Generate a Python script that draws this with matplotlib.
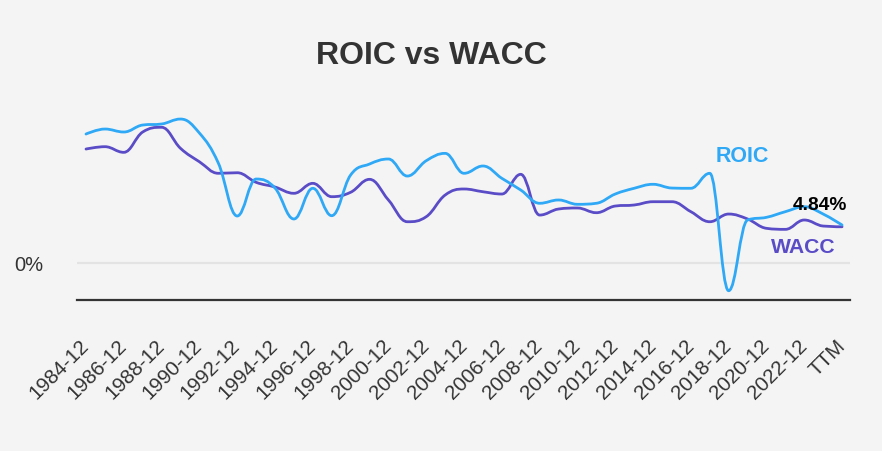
import numpy as np
import matplotlib
matplotlib.use("Agg")
import matplotlib.pyplot as plt
from matplotlib.path import Path
from matplotlib.patches import PathPatch

plt.rcParams['font.family'] = ['Liberation Sans', 'DejaVu Sans']

periods = [f"{y}-12" for y in range(1984, 2024)] + ["TTM"]

roic = [16.43, 17.07, 16.69, 17.58, 17.71, 18.34, 16.56, 12.74, 5.99, 10.70,
        9.55, 5.61, 9.52, 6.03, 11.21, 12.61, 13.25, 11.08, 13.03, 13.97,
        11.43, 12.36, 10.79, 9.30, 7.61, 8.03, 7.48, 7.61, 8.79, 9.52,
        10.03, 9.55, 9.52, 11.43, -3.53, 5.48, 5.82, 6.54, 7.17, 6.24, 4.84]

wacc = [14.52, 14.82, 14.10, 16.69, 17.29, 14.61, 12.90, 11.43, 11.50, 10.28,
        9.68, 8.88, 10.15, 8.45, 9.01, 10.66, 8.03, 5.26, 5.90, 8.66,
        9.43, 9.08, 8.79, 11.30, 6.11, 6.88, 7.01, 6.41, 7.26, 7.39,
        7.81, 7.81, 6.54, 5.26, 6.24, 5.61, 4.42, 4.29, 5.48, 4.71, 4.62]

ROIC_C = "#2FA8F6"
WACC_C = "#5A4CC6"
BG = "#F4F4F4"


def spline_path(xs, ys, smoothing=1.5):
    """Highcharts-style spline as cubic Bezier path."""
    n = len(xs)
    denom = smoothing + 1
    rc = [None] * n
    lc = [None] * n
    for i in range(n):
        px, py = xs[i], ys[i]
        if 0 < i < n - 1:
            lx, ly = xs[i - 1], ys[i - 1]
            nx, ny = xs[i + 1], ys[i + 1]
            lcx = (smoothing * px + lx) / denom
            lcy = (smoothing * py + ly) / denom
            rcx = (smoothing * px + nx) / denom
            rcy = (smoothing * py + ny) / denom
            corr = 0.0
            if rcx != lcx:
                corr = ((rcy - lcy) * (rcx - px)) / (rcx - lcx) + py - rcy
            lcy += corr
            rcy += corr
            if lcy > ly and lcy > py:
                lcy = max(ly, py); rcy = 2 * py - lcy
            elif lcy < ly and lcy < py:
                lcy = min(ly, py); rcy = 2 * py - lcy
            if rcy > ny and rcy > py:
                rcy = max(ny, py); lcy = 2 * py - rcy
            elif rcy < ny and rcy < py:
                rcy = min(ny, py); lcy = 2 * py - rcy
            lc[i] = (lcx, lcy)
            rc[i] = (rcx, rcy)
    verts = [(xs[0], ys[0])]
    codes = [Path.MOVETO]
    for i in range(1, n):
        c1 = rc[i - 1] if rc[i - 1] is not None else (xs[i - 1], ys[i - 1])
        c2 = lc[i] if lc[i] is not None else (xs[i], ys[i])
        verts += [c1, c2, (xs[i], ys[i])]
        codes += [Path.CURVE4] * 3
    return Path(verts, codes)


W, H = 882, 451
fig = plt.figure(figsize=(W / 100, H / 100), dpi=100, facecolor=BG)
ax = fig.add_axes([77 / W, (H - 300) / H, (850 - 77) / W, (300 - 105) / H])
ax.set_facecolor(BG)

x = np.arange(len(periods))
ax.set_xlim(-0.476, len(periods) - 1 + 0.42)
ax.set_ylim(-4.71, 20.13)

ax.axhline(0, color="#E3E3E3", lw=1.6, zorder=1)

for vals, col in ((wacc, WACC_C), (roic, ROIC_C)):
    p = spline_path(list(x.astype(float)), list(vals))
    ax.add_patch(PathPatch(p, facecolor="none", edgecolor=col, lw=2.0,
                           zorder=3, capstyle="round", joinstyle="round"))

for s in ("top", "right", "left"):
    ax.spines[s].set_visible(False)
ax.spines["bottom"].set_color("#333333")
ax.spines["bottom"].set_linewidth(1.6)
ax.spines["bottom"].set_position(("data", -4.71))

ax.set_xticks(x[::2])
ax.set_xticklabels(periods[::2], rotation=45, ha="right", va="center",
                   rotation_mode="anchor", fontsize=14.8, color="#333333")
ax.tick_params(axis="x", length=0, pad=31)
ax.set_yticks([0])
ax.set_yticklabels(["0%"], fontsize=14.5, color="#333333")
ax.tick_params(axis="y", length=0, pad=24.5)

fig.text(431 / W, 1 - 56 / H, "ROIC vs WACC", ha="center", va="center",
         fontsize=23, fontweight="bold", color="#333333")

ax.text(742 / W, 1 - 157 / H, "ROIC", transform=fig.transFigure, ha="center",
        va="center", fontsize=15.5, fontweight="bold", color=ROIC_C)
ax.text(803 / W, 1 - 247 / H, "WACC", transform=fig.transFigure, ha="center",
        va="center", fontsize=15.2, fontweight="bold", color=WACC_C)
ax.annotate(f"{roic[-1]:.2f}%", xy=(x[-1], roic[-1]), xytext=(820 / W, 1 - 206 / H),
            textcoords="figure fraction", ha="center", va="center",
            fontsize=13.8, fontweight="bold", color="black")

fig.savefig("out.png", dpi=100, facecolor=BG)
